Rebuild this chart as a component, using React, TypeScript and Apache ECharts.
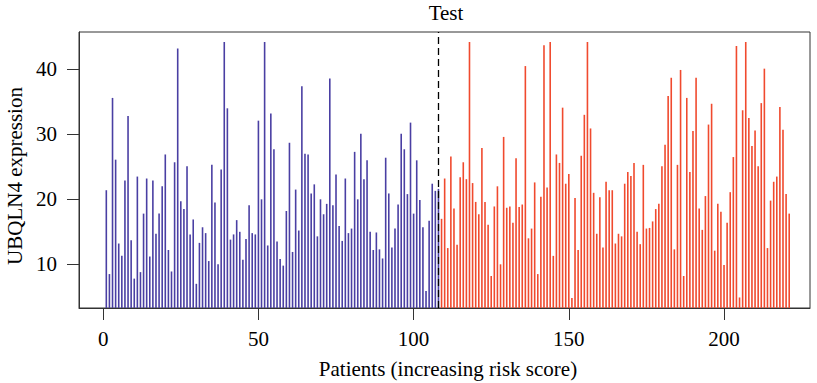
import React, { useEffect, useRef } from "react";
import * as echarts from "echarts";

// UBQLN4 expression, patients ordered by increasing risk score
const lowRiskExpr: number[] = [
  21.4, 8.5, 35.6, 26.1, 13.2, 11.3, 22.9, 32.8, 13.7, 7.8,
  23.5, 8.8, 17.8, 23.2, 11.2, 22.9, 14.7, 17.8, 22.0, 26.9,
  12.2, 8.9, 25.7, 43.2, 19.7, 18.5, 25.1, 14.6, 16.9, 7.0,
  13.3, 15.7, 14.8, 10.5, 25.3, 19.5, 10.0, 24.6, 44.2, 34.0,
  13.8, 14.6, 16.8, 15.0, 10.7, 13.9, 19.1, 14.8, 14.6, 32.1,
  20.0, 44.2, 12.9, 33.2, 27.7, 13.5, 10.8, 9.8, 18.2, 28.7,
  11.9, 21.5, 15.2, 37.4, 27.0, 26.9, 20.9, 22.3, 14.3, 20.0,
  17.7, 19.3, 38.6, 19.1, 23.8, 15.9, 13.6, 23.2, 14.8, 15.5,
  27.3, 20.0, 30.1, 23.1, 26.0, 15.0, 12.2, 14.9, 12.3, 10.9,
  26.4, 20.9, 12.6, 15.5, 19.2, 30.1, 27.7, 20.8, 31.8, 17.8,
  26.0, 19.9, 15.7, 5.9, 16.7, 22.4, 21.3, 21.6,
];

const highRiskExpr: number[] = [
  17.0, 23.2, 12.5, 26.6, 18.6, 13.0, 23.4, 25.7, 23.1, 44.2,
  22.5, 19.6, 17.7, 27.9, 19.6, 16.1, 8.2, 18.9, 22.0, 10.0,
  29.6, 18.7, 18.9, 16.4, 26.3, 18.8, 19.2, 40.5, 14.0, 15.5,
  22.6, 8.5, 20.4, 43.7, 21.8, 44.2, 11.3, 26.9, 25.6, 34.1,
  22.4, 23.9, 4.8, 20.2, 12.2, 26.7, 33.0, 44.2, 30.9, 21.0,
  14.7, 20.3, 12.6, 22.7, 21.4, 21.4, 13.2, 14.7, 14.3, 22.4,
  24.2, 23.6, 25.6, 15.0, 13.1, 25.3, 15.5, 15.6, 16.6, 18.5,
  19.3, 25.1, 28.4, 35.9, 38.7, 12.3, 25.3, 39.9, 8.2, 35.6,
  24.2, 30.5, 38.7, 18.6, 15.3, 20.5, 31.5, 34.7, 12.1, 19.3,
  18.1, 9.9, 16.4, 21.1, 26.5, 43.6, 4.9, 33.7, 44.2, 32.5,
  28.2, 30.6, 25.1, 34.8, 40.1, 12.5, 19.8, 22.7, 23.5, 34.2,
  30.7, 20.8, 17.8,
];

const xTicks: number[] = [0, 50, 100, 150, 200];
const yTicks: number[] = [10, 20, 30, 40];

const titleText = "Test";
const xTitle = "Patients (increasing risk score)";
const yTitle = "UBQLN4 expression";

const LOW_COLOR = "#4a3fa3";
const HIGH_COLOR = "#f04a2e";
const FONT = '"Liberation Serif", "DejaVu Serif", serif';

export default function App() {
  const ref = useRef<HTMLDivElement>(null);

  useEffect(() => {
    document.body.style.margin = "0";
    if (!ref.current) return;
    const chart = echarts.init(ref.current, undefined, { renderer: "svg" });

    const cutoff = lowRiskExpr.length;
    const lowData = lowRiskExpr.map((v, i) => [i + 1, v]);
    const highData = highRiskExpr.map((v, i) => [cutoff + i + 1, v]);

    const axisText = { color: "#000", fontSize: 21, fontFamily: FONT };

    chart.setOption({
      animation: false,
      grid: {
        left: 79,
        top: 32,
        width: 731,
        height: 276,
        show: true,
        borderColor: "#333",
        borderWidth: 1,
      },
      xAxis: {
        type: "value",
        min: -7.8,
        max: 227.7,
        axisLine: { show: true, onZero: false, lineStyle: { color: "#333", width: 1 } },
        axisTick: {
          show: true,
          length: 12,
          customValues: xTicks,
          lineStyle: { color: "#333", width: 1 },
        },
        axisLabel: { ...axisText, margin: 20, customValues: xTicks },
        splitLine: { show: false },
      },
      yAxis: {
        type: "value",
        min: 3.28,
        max: 45.74,
        axisLine: { show: true, onZero: false, lineStyle: { color: "#333", width: 1 } },
        axisTick: {
          show: true,
          length: 12,
          customValues: yTicks,
          lineStyle: { color: "#333", width: 1 },
        },
        axisLabel: { ...axisText, margin: 22, customValues: yTicks },
        splitLine: { show: false },
      },
      series: [
        {
          name: "Low risk",
          type: "bar",
          data: lowData,
          barWidth: 1.6,
          barGap: "-100%",
          clip: true,
          itemStyle: { color: LOW_COLOR },
        },
        {
          name: "High risk",
          type: "bar",
          data: highData,
          barWidth: 1.6,
          barGap: "-100%",
          clip: true,
          itemStyle: { color: HIGH_COLOR },
          markLine: {
            silent: true,
            symbol: "none",
            label: { show: false },
            lineStyle: { color: "#000", type: [7, 4], width: 1.3 },
            data: [{ xAxis: cutoff }],
            z: 10,
          },
        },
      ],
      graphic: [
        {
          type: "text",
          x: 446,
          y: 13,
          style: {
            text: titleText,
            font: `21px ${FONT}`,
            fill: "#000",
            textAlign: "center",
            textVerticalAlign: "middle",
          },
        },
        {
          type: "text",
          x: 448,
          y: 369,
          style: {
            text: xTitle,
            font: `21px ${FONT}`,
            fill: "#000",
            textAlign: "center",
            textVerticalAlign: "middle",
          },
        },
        {
          type: "text",
          x: 15,
          y: 176,
          rotation: Math.PI / 2,
          style: {
            text: yTitle,
            font: `21px ${FONT}`,
            fill: "#000",
            textAlign: "center",
            textVerticalAlign: "middle",
          },
        },
      ],
    });

    return () => {
      chart.dispose();
    };
  }, []);

  return <div ref={ref} style={{ width: 817, height: 383 }} />;
}
